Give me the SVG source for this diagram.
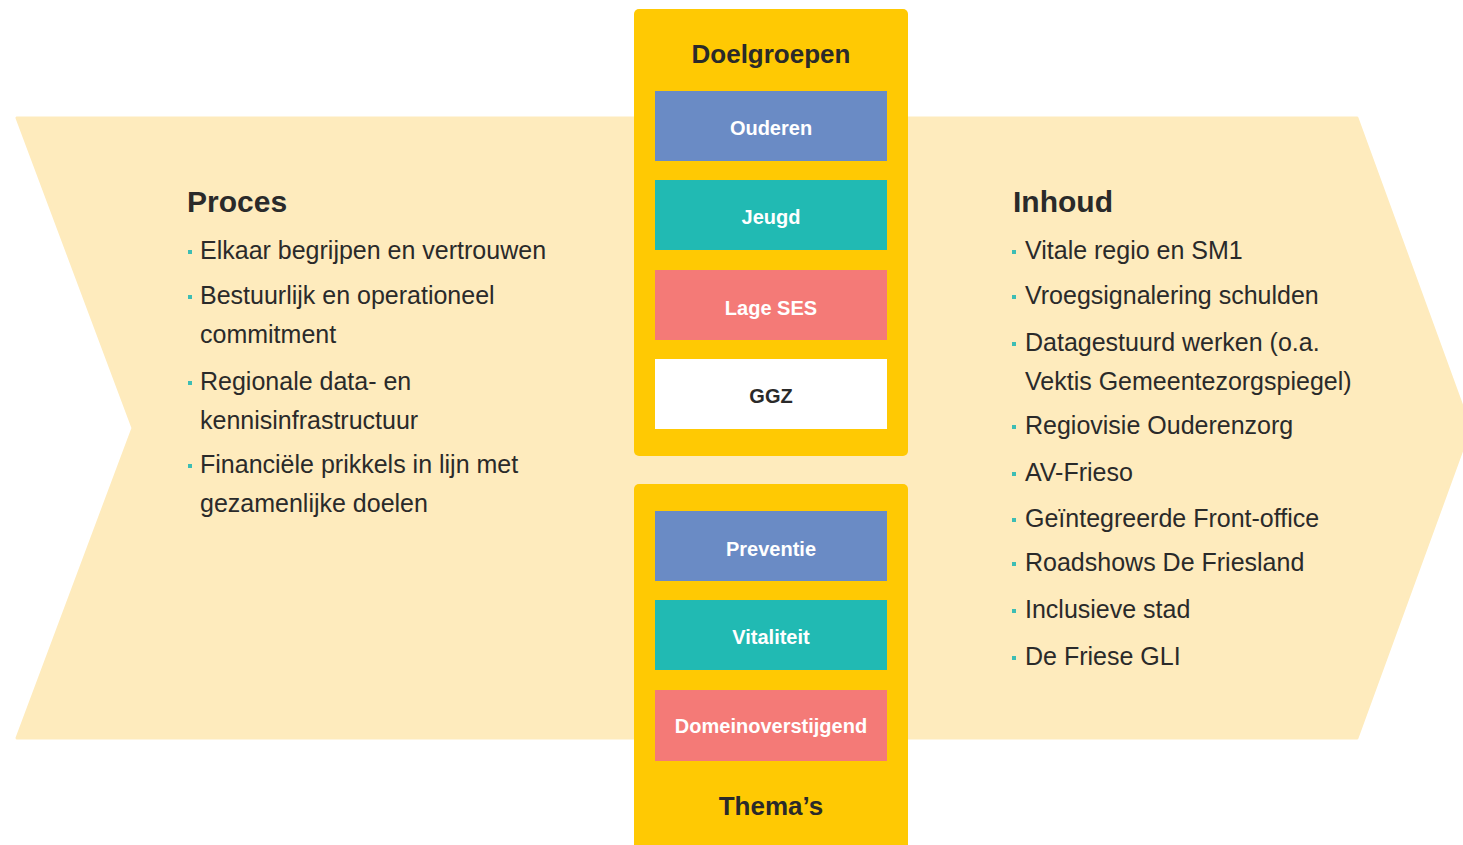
<svg xmlns="http://www.w3.org/2000/svg" width="1463" height="845" viewBox="0 0 1463 845">
<style>
  .bg { fill: #FEEBBD; }
  .panel { fill: #FFC903; }
  .head { font-family: "Liberation Sans", Arial, sans-serif; font-weight: bold; fill: #2A2A2A; }
  .item { font-family: "Liberation Sans", Arial, sans-serif; font-size: 25px; fill: #2A2A2A; }
  .lbl { font-family: "Liberation Sans", Arial, sans-serif; font-size: 20px; font-weight: bold; fill: #FFFFFF; text-anchor: middle; }
  .blt { fill: #3DBDB4; }
  .blue { fill: #6A8BC5; }
  .teal { fill: #21BAB3; }
  .red { fill: #F47A77; }
  .white { fill: #FFFFFF; }
</style>
<rect width="1463" height="845" fill="#FFFFFF"/>
<g id="chevron">
  <polygon class="bg" points="17,118 1357,118 1470,428 1357,738 17,738 133,428" stroke="#FEEBBD" stroke-width="3" stroke-linejoin="round"/>
</g>
<g id="proces">
  <text class="head" x="187" y="212" font-size="30">Proces</text>
  <g class="blt">
    <rect x="188" y="250" width="4" height="4"/>
    <rect x="188" y="295" width="4" height="4"/>
    <rect x="188" y="381" width="4" height="4"/>
    <rect x="188" y="464" width="4" height="4"/>
  </g>
  <text class="item" x="200" y="259">Elkaar begrijpen en vertrouwen</text>
  <text class="item" x="200" y="304">Bestuurlijk en operationeel</text>
  <text class="item" x="200" y="343">commitment</text>
  <text class="item" x="200" y="390">Regionale data- en</text>
  <text class="item" x="200" y="429">kennisinfrastructuur</text>
  <text class="item" x="200" y="473">Financiële prikkels in lijn met</text>
  <text class="item" x="200" y="512">gezamenlijke doelen</text>
</g>
<g id="inhoud">
  <text class="head" x="1013" y="212" font-size="30">Inhoud</text>
  <g class="blt">
    <rect x="1012" y="250" width="4" height="4"/>
    <rect x="1012" y="295" width="4" height="4"/>
    <rect x="1012" y="342" width="4" height="4"/>
    <rect x="1012" y="425" width="4" height="4"/>
    <rect x="1012" y="472" width="4" height="4"/>
    <rect x="1012" y="518" width="4" height="4"/>
    <rect x="1012" y="562" width="4" height="4"/>
    <rect x="1012" y="609" width="4" height="4"/>
    <rect x="1012" y="656" width="4" height="4"/>
  </g>
  <text class="item" x="1025" y="259">Vitale regio en SM1</text>
  <text class="item" x="1025" y="304">Vroegsignalering schulden</text>
  <text class="item" x="1025" y="351">Datagestuurd werken (o.a.</text>
  <text class="item" x="1025" y="390">Vektis Gemeentezorgspiegel)</text>
  <text class="item" x="1025" y="434">Regiovisie Ouderenzorg</text>
  <text class="item" x="1025" y="481">AV-Frieso</text>
  <text class="item" x="1025" y="527">Geïntegreerde Front-office</text>
  <text class="item" x="1025" y="571">Roadshows De Friesland</text>
  <text class="item" x="1025" y="618">Inclusieve stad</text>
  <text class="item" x="1025" y="665">De Friese GLI</text>
</g>
<g id="doelgroepen">
  <rect class="panel" x="634" y="9" width="274" height="447" rx="5"/>
  <text class="head" x="771" y="63" font-size="26" text-anchor="middle">Doelgroepen</text>
</g>
<g id="ouderen">
  <rect class="blue" x="655" y="91" width="232" height="70"/>
  <text class="lbl" x="771" y="135">Ouderen</text>
</g>
<g id="jeugd">
  <rect class="teal" x="655" y="180" width="232" height="70"/>
  <text class="lbl" x="771" y="224">Jeugd</text>
</g>
<g id="lage-ses">
  <rect class="red" x="655" y="270" width="232" height="70"/>
  <text class="lbl" x="771" y="315">Lage SES</text>
</g>
<g id="ggz">
  <rect class="white" x="655" y="359" width="232" height="70"/>
  <text class="lbl" x="771" y="403" style="fill:#2A2A2A">GGZ</text>
</g>
<g id="themas">
  <rect class="panel" x="634" y="484" width="274" height="370" rx="5"/>
  <text class="head" x="771" y="815" font-size="26" text-anchor="middle">Thema’s</text>
</g>
<g id="preventie">
  <rect class="blue" x="655" y="511" width="232" height="70"/>
  <text class="lbl" x="771" y="556">Preventie</text>
</g>
<g id="vitaliteit">
  <rect class="teal" x="655" y="600" width="232" height="70"/>
  <text class="lbl" x="771" y="644">Vitaliteit</text>
</g>
<g id="domeinoverstijgend">
  <rect class="red" x="655" y="690" width="232" height="71"/>
  <text class="lbl" x="771" y="733">Domeinoverstijgend</text>
</g>
<g id="connectors"/>
</svg>
